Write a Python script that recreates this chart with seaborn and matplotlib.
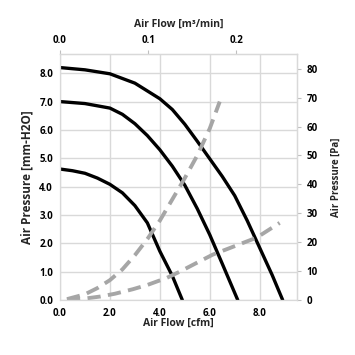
"""
Fan P-Q curves (air pressure vs air flow) with system impedance curves.
"""

import matplotlib
matplotlib.use("Agg")
import matplotlib.pyplot as plt
import pandas as pd
import seaborn as sns
from matplotlib.ticker import FormatStrFormatter, MultipleLocator

# ── data ───────────────────────────────────────────────────────────────────
# fan curves, cfm vs mm-H2O
fan_high_q = [0.0, 1.0, 2.0, 3.0, 4.0, 4.5, 5.0, 5.5, 6.0, 6.5, 7.0, 7.5, 8.0, 8.5, 8.92]
fan_high_p = [8.2, 8.12, 7.98, 7.65, 7.1, 6.72, 6.2, 5.6, 4.98, 4.36, 3.68, 2.8, 1.84, 0.88, 0.0]

fan_mid_q = [0.0, 1.0, 2.0, 2.5, 3.0, 3.5, 4.0, 4.5, 5.0, 5.5, 6.0, 6.5, 7.12]
fan_mid_p = [7.0, 6.93, 6.77, 6.55, 6.22, 5.8, 5.3, 4.72, 4.05, 3.22, 2.3, 1.28, 0.0]

fan_low_q = [0.0, 0.5, 1.0, 1.5, 2.0, 2.5, 3.0, 3.5, 4.0, 4.5, 4.9]
fan_low_p = [4.62, 4.56, 4.47, 4.3, 4.08, 3.78, 3.33, 2.72, 1.72, 0.85, 0.0]

# system impedance curves
imp_steep_q = [0.28, 1.0, 1.5, 2.0, 2.5, 3.0, 3.5, 4.0, 4.5, 5.0, 5.5, 6.0, 6.4]
imp_steep_p = [0.03, 0.2, 0.42, 0.7, 1.08, 1.58, 2.15, 2.8, 3.55, 4.3, 5.1, 6.05, 7.0]

imp_flat_q = [0.28, 1.0, 1.6, 2.2, 2.92, 3.5, 4.28, 4.8, 5.5, 6.12, 7.0, 7.88, 8.8]
imp_flat_p = [0.0, 0.05, 0.12, 0.22, 0.38, 0.53, 0.78, 1.0, 1.32, 1.6, 1.9, 2.2, 2.72]

CFM_TO_M3MIN = 0.0283168
MMH2O_TO_PA = 9.80665

x_max = 9.5
y_max = 8.68

GRID = "#D9D9D9"
DASH = "#A6A6A6"
FONT = ["Open Sans", "DejaVu Sans"]

sns.set_theme(style="white")
plt.rcParams.update({
    "font.family": FONT,
    "font.weight": "bold",
    "axes.labelweight": "bold",
    "axes.edgecolor": GRID,
    "axes.linewidth": 0.9,
    "xtick.color": "#BFBFBF",
    "ytick.color": "#BFBFBF",
    "xtick.labelcolor": "black",
    "ytick.labelcolor": "black",
})

fig = plt.figure(figsize=(3.55, 3.55), dpi=100)
ax = fig.add_axes([0.169, 0.155, 0.668, 0.693])

for q, p in [(fan_high_q, fan_high_p), (fan_mid_q, fan_mid_p), (fan_low_q, fan_low_p)]:
    df = pd.DataFrame({"q": q, "p": p})
    sns.lineplot(data=df, x="q", y="p", sort=False, color="black", lw=2.4, ax=ax)

for q, p in [(imp_steep_q, imp_steep_p), (imp_flat_q, imp_flat_p)]:
    df = pd.DataFrame({"q": q, "p": p})
    sns.lineplot(data=df, x="q", y="p", sort=False, color=DASH, lw=2.8, ax=ax)
    ax.lines[-1].set_dashes([3.4, 1.9])

ax.set_xlim(0, x_max)
ax.set_ylim(0, y_max)
ax.xaxis.set_major_locator(MultipleLocator(2.0))
ax.yaxis.set_major_locator(MultipleLocator(1.0))
ax.xaxis.set_major_formatter(FormatStrFormatter("%.1f"))
ax.yaxis.set_major_formatter(FormatStrFormatter("%.1f"))
ax.grid(True, color=GRID, lw=1.0)
ax.tick_params(axis="both", which="major", length=3, width=0.8, pad=2, labelsize=7)
ax.tick_params(axis="x", pad=3)

ax.set_xlabel("Air Flow [cfm]", fontsize=7.5, fontweight="bold", labelpad=-1)
ax.set_ylabel("Air Pressure [mm-H2O]", fontsize=8.5, fontweight="bold", labelpad=4)

# top axis, m3/min
top = ax.secondary_xaxis("top", functions=(lambda x: x * CFM_TO_M3MIN,
                                           lambda x: x / CFM_TO_M3MIN))
top.xaxis.set_major_locator(MultipleLocator(0.1))
top.xaxis.set_major_formatter(FormatStrFormatter("%.1f"))
top.tick_params(length=3, width=0.8, pad=3, labelsize=7)
top.set_xlabel("Air Flow [m³/min]", fontsize=7.5, fontweight="bold", labelpad=6)

# right axis, Pa
right = ax.secondary_yaxis("right", functions=(lambda y: y * MMH2O_TO_PA,
                                               lambda y: y / MMH2O_TO_PA))
right.yaxis.set_major_locator(MultipleLocator(10))
right.yaxis.set_major_formatter(FormatStrFormatter("%d"))
right.tick_params(length=3, width=0.8, pad=4, labelsize=7)
right.set_ylabel("Air Pressure [Pa]", fontsize=7, fontweight="bold", labelpad=9)

for lbl in (ax.get_xticklabels() + ax.get_yticklabels()
            + top.get_xticklabels() + right.get_yticklabels()):
    lbl.set_fontweight("bold")

fig.savefig("out.png", dpi=100, facecolor="white")
